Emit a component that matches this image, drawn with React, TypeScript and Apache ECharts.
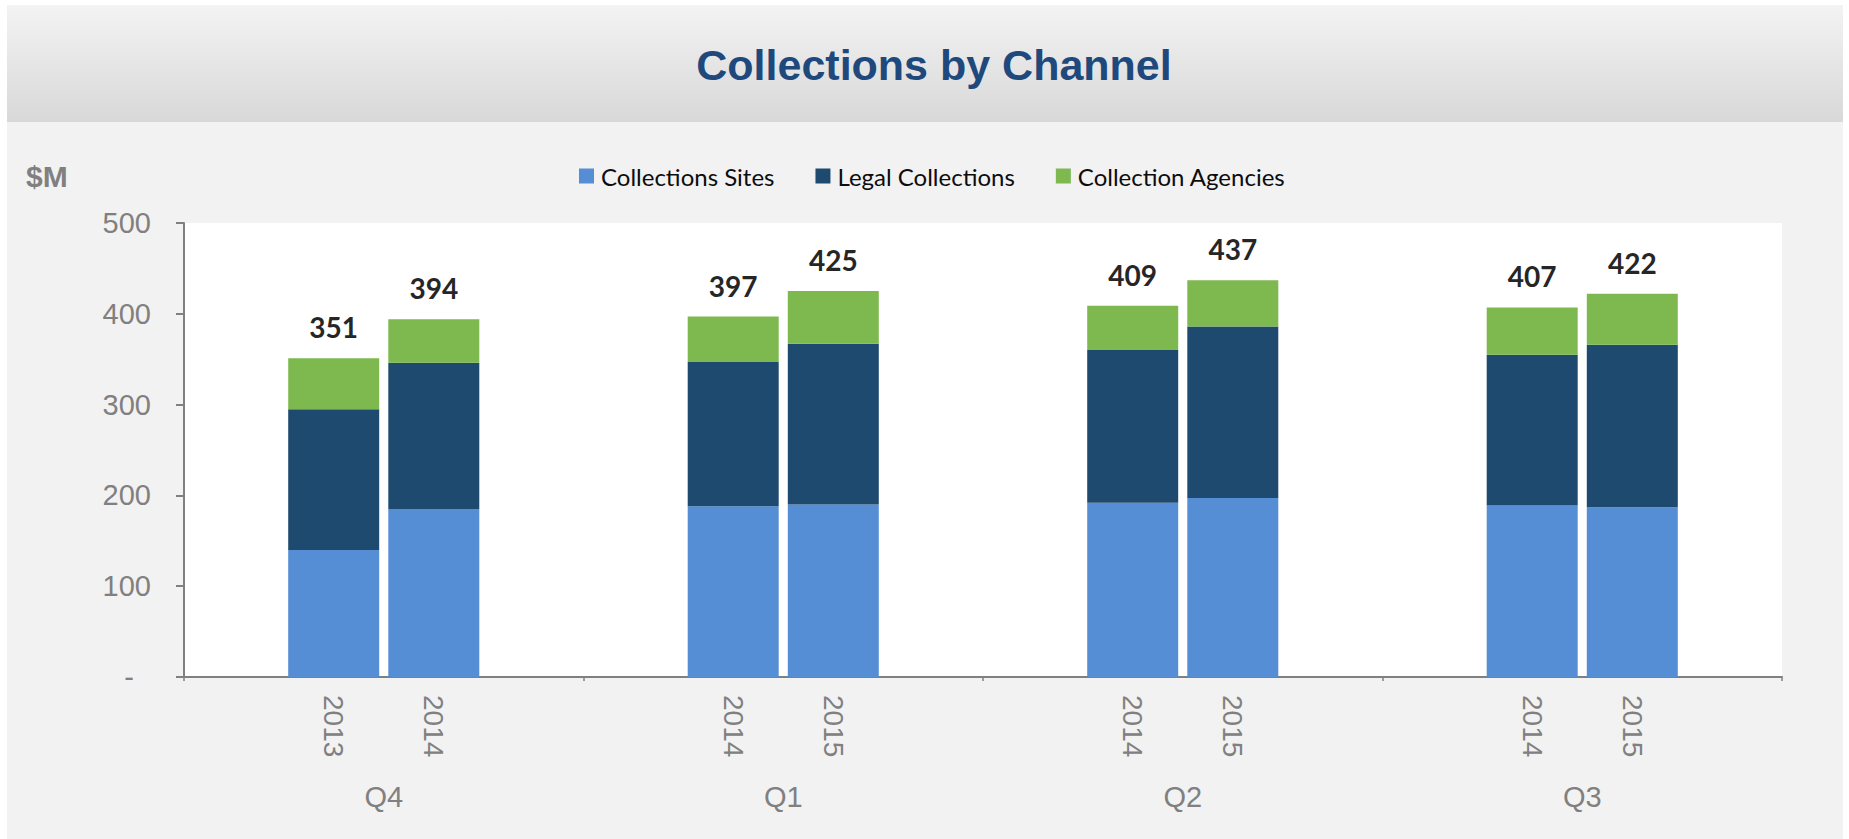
import React, { useEffect, useRef } from "react";
import * as echarts from "echarts";

const quarters = ["Q4", "Q1", "Q2", "Q3"];
const prevYear = ["2013", "2014", "2014", "2014"];
const currYear = ["2014", "2015", "2015", "2015"];

const sitesPrev = [140, 188, 192, 189];
const legalPrev = [155, 159, 168, 166];
const agenciesPrev = [56, 50, 49, 52];

const sitesCurr = [185, 190, 197, 187];
const legalCurr = [161, 177, 189, 179];
const agenciesCurr = [48, 58, 51, 56];

const seriesNames = ["Collections Sites", "Legal Collections", "Collection Agencies"];
const colors = ["#558ed5", "#1f4a6f", "#7db94e"];
const titleText = "Collections by Channel";

const ARIAL = '"Liberation Sans", Arial, sans-serif';
const CAL = 'Lato, "Noto Sans", sans-serif';

export default function App() {
  const ref = useRef<HTMLDivElement>(null);

  useEffect(() => {
    if (!ref.current) return;
    const chart = echarts.init(ref.current, undefined, { renderer: "svg" });

    const totalsPrev = sitesPrev.map((v, i) => v + legalPrev[i] + agenciesPrev[i]);
    const totalsCurr = sitesCurr.map((v, i) => v + legalCurr[i] + agenciesCurr[i]);

    const common = {
      type: "bar" as const,
      barWidth: 91,
      barGap: "10%",
    };

    const yearLabel = (years: string[]) => ({
      show: true,
      position: "bottom" as const,
      distance: 18,
      rotate: -90,
      align: "left" as const,
      verticalAlign: "middle" as const,
      fontFamily: ARIAL,
      fontSize: 28,
      color: "#808080",
      formatter: (p: any) => years[p.dataIndex],
    });

    const totalLabel = (totals: number[]) => ({
      show: true,
      position: "top" as const,
      distance: 17,
      fontFamily: CAL,
      fontWeight: "bold" as const,
      fontSize: 28,
      color: "#262626",
      formatter: (p: any) => String(totals[p.dataIndex]),
    });

    const option: any = {
      animation: false,
      backgroundColor: "#ffffff",
      graphic: [
        {
          type: "rect",
          z: -10,
          shape: { x: 7, y: 5, width: 1836, height: 117 },
          style: {
            fill: new echarts.graphic.LinearGradient(0, 0, 0, 1, [
              { offset: 0, color: "#f3f3f3" },
              { offset: 1, color: "#d8d8d8" },
            ]),
          },
          silent: true,
        },
        {
          type: "rect",
          z: -10,
          shape: { x: 7, y: 122, width: 1836, height: 717 },
          style: { fill: "#f2f2f2" },
          silent: true,
        },
        {
          type: "text",
          x: 934,
          y: 65,
          style: {
            text: titleText,
            fontFamily: ARIAL,
            fontWeight: "bold",
            fontSize: 43,
            fill: "#1f497d",
            align: "center",
            verticalAlign: "middle",
          },
        },
        {
          type: "text",
          x: 26,
          y: 176,
          style: {
            text: "$M",
            fontFamily: ARIAL,
            fontWeight: "bold",
            fontSize: 30,
            fill: "#808080",
            verticalAlign: "middle",
          },
        },
      ],
      legend: {
        data: seriesNames,
        left: 574,
        top: 159,
        itemWidth: 15,
        itemHeight: 15,
        itemGap: 41,
        icon: "rect",
        textStyle: {
          fontFamily: CAL,
          fontSize: 24,
          color: "#0d0d0d",
          padding: [0, 0, 0, 2],
        },
      },
      grid: {
        left: 184,
        right: 67,
        top: 223,
        bottom: 162,
        show: true,
        backgroundColor: "#ffffff",
        borderWidth: 0,
      },
      xAxis: {
        type: "category",
        data: quarters,
        axisLine: { show: true, lineStyle: { color: "#808080", width: 2 } },
        axisTick: { show: true, length: 4, lineStyle: { color: "#808080", width: 1.5 } },
        axisLabel: {
          fontFamily: ARIAL,
          fontSize: 29,
          color: "#808080",
          margin: 105,
        },
      },
      yAxis: {
        type: "value",
        min: 0,
        max: 500,
        interval: 100,
        splitLine: { show: false },
        axisLine: { show: true, lineStyle: { color: "#808080", width: 2 } },
        axisTick: { show: true, length: 8, lineStyle: { color: "#808080", width: 2 } },
        axisLabel: {
          fontFamily: ARIAL,
          fontSize: 29,
          color: "#808080",
          margin: 33,
          formatter: (v: number) => (v === 0 ? "{d|-}" : String(v)),
          rich: {
            d: { padding: [0, 17, 0, 0], fontFamily: ARIAL, fontSize: 29, color: "#808080" },
          },
        },
      },
      series: [
        {
          ...common,
          name: seriesNames[0],
          stack: "prev",
          data: sitesPrev,
          itemStyle: { color: colors[0] },
          label: yearLabel(prevYear),
        },
        {
          ...common,
          name: seriesNames[1],
          stack: "prev",
          data: legalPrev,
          itemStyle: { color: colors[1] },
        },
        {
          ...common,
          name: seriesNames[2],
          stack: "prev",
          data: agenciesPrev,
          itemStyle: { color: colors[2] },
          label: totalLabel(totalsPrev),
        },
        {
          ...common,
          name: seriesNames[0],
          stack: "curr",
          data: sitesCurr,
          itemStyle: { color: colors[0] },
          label: yearLabel(currYear),
        },
        {
          ...common,
          name: seriesNames[1],
          stack: "curr",
          data: legalCurr,
          itemStyle: { color: colors[1] },
        },
        {
          ...common,
          name: seriesNames[2],
          stack: "curr",
          data: agenciesCurr,
          itemStyle: { color: colors[2] },
          label: totalLabel(totalsCurr),
        },
      ],
    };

    chart.setOption(option);
    return () => chart.dispose();
  }, []);

  return (
    <div
      ref={ref}
      style={{ position: "fixed", left: 0, top: 0, width: 1849, height: 839 }}
    />
  );
}
